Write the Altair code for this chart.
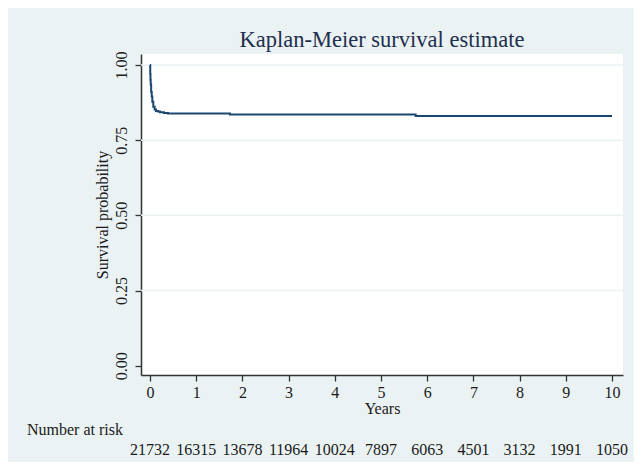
import altair as alt
import pandas as pd

# Kaplan-Meier step curve (years, survival probability)
km_years = [0.0, 0.005, 0.01, 0.015, 0.025, 0.037, 0.05, 0.071, 0.10, 0.13, 0.17,
            0.216, 0.30, 0.39, 1.73, 5.75, 10.0]
km_surv = [1.0, 0.97, 0.95, 0.935, 0.91, 0.895, 0.878, 0.861, 0.852, 0.847, 0.845,
           0.843, 0.840, 0.8386, 0.8353, 0.8306, 0.8306]

# Number at risk table
risk_years = [0, 1, 2, 3, 4, 5, 6, 7, 8, 9, 10]
risk_counts = [21732, 16315, 13678, 11964, 10024, 7897, 6063, 4501, 3132, 1991, 1050]

x_ticks = [0, 1, 2, 3, 4, 5, 6, 7, 8, 9, 10]
y_ticks = [0.0, 0.25, 0.50, 0.75, 1.0]
grid_vals = [0.25, 0.50, 0.75, 1.0]

km_df = pd.DataFrame({"t": km_years, "s": km_surv})
risk_df = pd.DataFrame({"t": risk_years, "n": [str(c) for c in risk_counts]})
grid_df = pd.DataFrame({"g": grid_vals})
lab_df = pd.DataFrame({"label": ["Number at risk"]})

FONT = "Liberation Serif"
TXT = "#1a1a1a"
AX = "#333333"
BG = "#EAF2F3"
NAVY = "#1A476F"

xscale = alt.Scale(domain=[-0.195, 10.238], nice=False, zero=False)
yscale = alt.Scale(domain=[-0.031, 1.0366], nice=False, zero=False)

xaxis = alt.Axis(values=x_ticks, format="d", title="Years", labelFont=FONT, labelFontSize=16,
                 labelColor=TXT, titleFont=FONT, titleFontSize=16, titleFontWeight="normal",
                 titleColor=TXT, tickSize=6, tickColor=AX, tickWidth=1.3, domainColor=AX,
                 domainWidth=1.5, grid=False, labelPadding=3, titlePadding=0, labelFlush=False)
yaxis = alt.Axis(values=y_ticks, format=".2f", title="Survival probability", labelFont=FONT,
                 labelFontSize=16, labelColor=TXT, labelAngle=270, labelAlign="center",
                 labelBaseline="bottom", titleFont=FONT, titleFontSize=16,
                 titleFontWeight="normal", titleColor=TXT, tickSize=6, tickColor=AX,
                 tickWidth=1.3, domainColor=AX, domainWidth=1.5, grid=False,
                 labelPadding=6, titlePadding=3, labelFlush=False)

grid = alt.Chart(grid_df).mark_rule(color=BG, strokeWidth=1.5).encode(
    y=alt.Y("g:Q", scale=yscale, axis=yaxis)
)

line = alt.Chart(km_df).mark_line(color=NAVY, strokeWidth=2, interpolate="step-after").encode(
    x=alt.X("t:Q", scale=xscale, axis=xaxis),
    y=alt.Y("s:Q", scale=yscale),
)

risk = alt.Chart(risk_df).mark_text(font=FONT, fontSize=16, color=TXT, align="center",
                                    baseline="alphabetic").encode(
    x=alt.X("t:Q", scale=xscale),
    y=alt.value(401),
    text="n:N",
)

risk_label = alt.Chart(lab_df).mark_text(font=FONT, fontSize=16, color=TXT, align="left",
                                         baseline="alphabetic").encode(
    x=alt.value(-114),
    y=alt.value(381),
    text="label:N",
)

chart = alt.layer(grid, line, risk, risk_label).properties(
    width=482,
    height=321,
    background=BG,
    padding={"left": 133, "top": 46, "right": 11, "bottom": 87},
    autosize=alt.AutoSizeParams(type="none"),
    title=alt.TitleParams("Kaplan-Meier survival estimate", font=FONT, fontSize=22.5,
                          fontWeight="normal", color="#1f2f4f", anchor="middle",
                          baseline="alphabetic", offset=7, dy=25),
).configure_view(fill="white", stroke=None)

chart.save("out.html", embed_options={"renderer": "svg", "actions": False})
